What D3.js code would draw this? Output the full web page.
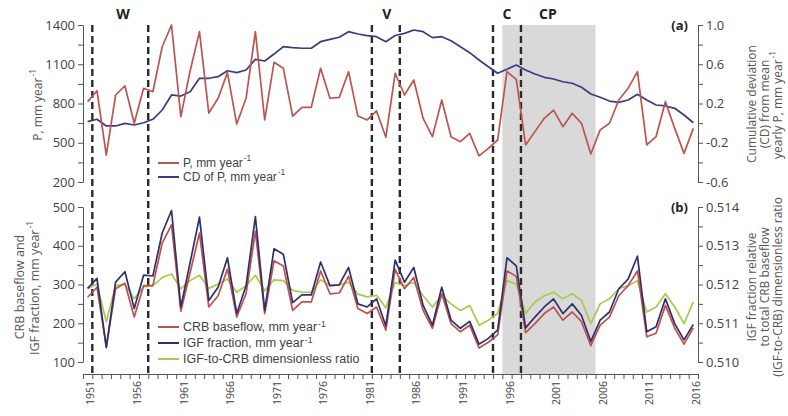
<!DOCTYPE html>
<html>
<head>
<meta charset="utf-8">
<script src="https://cdn.jsdelivr.net/npm/d3@7"></script>
<style>
  body { margin: 0; background: #fff; }
  text { font-family: "Open Sans", "DejaVu Sans", sans-serif; fill: #3f3f3f; }
  .leg text { font-family: "Liberation Sans", Arial, sans-serif; }
</style>
</head>
<body>
<svg id="chart" width="788" height="416"></svg>
<script>
// years 1951..2016
var years = d3.range(1951, 2017);
var xLabelYears = [1951, 1956, 1961, 1966, 1971, 1976, 1981, 1986, 1991, 1996, 2001, 2006, 2011, 2016];

// (a) precipitation and its cumulative deviation
var precip = [814, 898, 406, 865, 934, 649, 916, 890, 1234, 1400, 700, 1050, 1349, 727, 840, 1036, 643, 840, 1349, 674,
  1115, 1069, 704, 771, 771, 1069, 840, 847, 1043, 704, 674, 743, 542, 1031, 865, 980, 687, 546, 827, 546,
  508, 572, 399, 457, 521, 1043, 985, 483, 585, 687, 750, 623, 725, 649, 414, 598, 649, 827, 916, 1043,
  483, 546, 814, 610, 419, 610];
var cumDev = [0.015, 0.039, -0.029, -0.029, -0.002, -0.019, 0.004, 0.039, 0.134, 0.287, 0.276, 0.320, 0.457, 0.457, 0.473, 0.534, 0.514, 0.541, 0.650, 0.633,
  0.704, 0.779, 0.769, 0.763, 0.763, 0.830, 0.854, 0.875, 0.932, 0.908, 0.891, 0.881, 0.830, 0.893, 0.915, 0.949, 0.932, 0.871, 0.881, 0.840,
  0.779, 0.718, 0.643, 0.575, 0.508, 0.549, 0.592, 0.541, 0.501, 0.467, 0.450, 0.422, 0.406, 0.365, 0.297, 0.263, 0.225, 0.212, 0.236, 0.294,
  0.236, 0.185, 0.175, 0.151, 0.083, 0.004];

// (b) baseflow, IGF fraction, ratio
var crbBaseflow = [267, 293, 140, 289, 303, 216, 297, 297, 407, 454, 231, 331, 433, 242, 271, 340, 216, 276, 437, 225,
  361, 348, 233, 255, 255, 335, 276, 278, 321, 238, 225, 242, 182, 339, 289, 318, 233, 187, 276, 199,
  178, 195, 136, 151, 170, 335, 321, 176, 199, 225, 242, 208, 229, 204, 142, 195, 216, 271, 297, 335,
  165, 174, 246, 187, 146, 188];
var igfFraction = [290, 316, 137, 306, 333, 238, 324, 322, 433, 491, 242, 357, 474, 259, 293, 369, 225, 297, 475, 233,
  392, 378, 253, 273, 273, 358, 297, 299, 344, 250, 242, 263, 193, 363, 306, 344, 246, 195, 293, 208,
  187, 205, 146, 161, 182, 369, 348, 188, 216, 242, 263, 225, 250, 220, 153, 208, 229, 289, 314, 373,
  178, 191, 263, 199, 157, 197];
var igfRatio = [0.51189, 0.51201, 0.51104, 0.51197, 0.51201, 0.51163, 0.51194, 0.51197, 0.51218, 0.51227,
  0.51189, 0.51210, 0.51224, 0.51190, 0.51201, 0.51214, 0.51180, 0.51197, 0.51224, 0.51184,
  0.51212, 0.51210, 0.51185, 0.51180, 0.51180, 0.51212, 0.51197, 0.51199, 0.51206, 0.51175,
  0.51168, 0.51172, 0.51140, 0.51205, 0.51197, 0.51205, 0.51171, 0.51142, 0.51171, 0.51150,
  0.51133, 0.51146, 0.51095, 0.51108, 0.51125, 0.51210, 0.51201, 0.51125, 0.51155, 0.51171,
  0.51180, 0.51163, 0.51176, 0.51159, 0.51099, 0.51150, 0.51163, 0.51189, 0.51197, 0.51210,
  0.51129, 0.51142, 0.51176, 0.51142, 0.51099, 0.51155];

// period breaks and labels
var breakYears = [1951.5, 1957.5, 1981.5, 1984.5, 1994.5, 1997.5];
var periodNames = ["W", "V", "C", "CP"];
var periodAt = [1954.8, 1983.1, 1996.0, 2000.4];
var shadedSpan = [1995.5, 2005.5];

var svg = d3.select("#chart");

var x = d3.scaleLinear().domain([1950.5, 2016.5]).range([83, 698]);
var yP = d3.scaleLinear().domain([200, 1400]).range([182, 25]);
var yCD = d3.scaleLinear().domain([-0.6, 1.0]).range([182, 25]);
var yB = d3.scaleLinear().domain([100, 500]).range([362, 207]);
var yR = d3.scaleLinear().domain([0.510, 0.514]).range([362, 207]);

var axisBottomY = 374;

// shaded period
svg.append("rect")
  .attr("x", x(shadedSpan[0]))
  .attr("y", 25)
  .attr("width", x(shadedSpan[1]) - x(shadedSpan[0]))
  .attr("height", axisBottomY - 25)
  .attr("fill", "#d9d9d9");

// dashed breaks
svg.selectAll(".brk").data(breakYears).enter().append("line")
  .attr("class", "brk")
  .attr("x1", d => x(d)).attr("x2", d => x(d))
  .attr("y1", 25).attr("y2", axisBottomY)
  .attr("stroke", "#2a2a2a")
  .attr("stroke-width", 2.4)
  .attr("stroke-dasharray", "7,4");

svg.selectAll(".period").data(periodNames).enter().append("text")
  .attr("x", (d, i) => x(periodAt[i]))
  .attr("y", 19)
  .attr("text-anchor", "middle")
  .style("font-weight", "bold")
  .style("font-size", "14px")
  .style("fill", "#222")
  .text(d => d);

// axes
function styleAxis(g) {
  g.selectAll("path, line").attr("stroke", "#555").attr("stroke-width", 1);
  g.selectAll("text").style("font-size", "13px").style("fill", "#3f3f3f").attr("font-family", null);
}

var pTicks = d3.range(200, 1401, 150);
svg.append("g").attr("transform", "translate(83,0)")
  .call(d3.axisLeft(yP).tickValues(pTicks).tickSize(5).tickSizeOuter(0).tickPadding(3)
    .tickFormat(d => (d - 200) % 300 === 0 ? d : ""))
  .call(styleAxis);

var cdTicks = [-0.6, -0.4, -0.2, 0, 0.2, 0.4, 0.6, 0.8, 1.0];
svg.append("g").attr("transform", "translate(698,0)")
  .call(d3.axisRight(yCD).tickValues(cdTicks).tickSize(5).tickSizeOuter(0).tickPadding(3)
    .tickFormat((d, i) => i % 2 === 0 ? d3.format(".1f")(d).replace("−", "-") : ""))
  .call(styleAxis);

var bTicks = d3.range(100, 501, 50);
svg.append("g").attr("transform", "translate(83,0)")
  .call(d3.axisLeft(yB).tickValues(bTicks).tickSize(5).tickSizeOuter(0).tickPadding(3)
    .tickFormat(d => d % 100 === 0 ? d : ""))
  .call(styleAxis);

var rTicks = [0.510, 0.5105, 0.511, 0.5115, 0.512, 0.5125, 0.513, 0.5135, 0.514];
svg.append("g").attr("transform", "translate(698,0)")
  .call(d3.axisRight(yR).tickValues(rTicks).tickSize(5).tickSizeOuter(0).tickPadding(3)
    .tickFormat((d, i) => i % 2 === 0 ? d3.format(".3f")(d) : ""))
  .call(styleAxis);

svg.append("g").attr("transform", "translate(0," + axisBottomY + ")")
  .call(d3.axisBottom(x).tickValues(d3.range(1950.5, 2017, 1)).tickSize(5).tickSizeOuter(0).tickFormat(""))
  .call(styleAxis);

svg.selectAll(".xlab").data(xLabelYears).enter().append("text")
  .attr("transform", d => "translate(" + (x(d) + 3) + "," + (axisBottomY + 7) + ") rotate(-90)")
  .attr("text-anchor", "end")
  .attr("dy", "0.35em")
  .style("font-size", "10.5px")
  .text(d => d);

// lines
function drawLine(vals, yScale, color, width) {
  var line = d3.line().x((d, i) => x(years[i])).y(d => yScale(d));
  svg.append("path").datum(vals)
    .attr("d", line)
    .attr("fill", "none")
    .attr("stroke", color)
    .attr("stroke-width", width)
    .attr("stroke-linejoin", "round");
}

drawLine(cumDev, yCD, "#3b3b85", 1.7);
drawLine(precip, yP, "#bb554f", 1.7);

drawLine(igfRatio, yR, "#a5cc4c", 1.7);
drawLine(crbBaseflow, yB, "#c0504d", 1.7);
drawLine(igfFraction, yB, "#2f2f6e", 1.7);

// "-1" exponent as its own text, placed right after the main label
function addSup(parent, mainText, fs, raise) {
  var len = mainText.node().getComputedTextLength();
  parent.append("text")
    .attr("x", len + 1)
    .attr("y", -fs * (raise || 0.42))
    .attr("dy", "0.35em")
    .style("font-size", (fs * 0.7) + "px")
    .style("fill", mainText.style("fill"))
    .text("-1");
}

// legends
function legend(items, x0, y0, step, fs, raise) {
  var lg = svg.append("g").attr("class", "leg");
  items.forEach(function(it, i) {
    var yy = y0 + i * step;
    lg.append("line").attr("x1", x0).attr("x2", x0 + 21).attr("y1", yy).attr("y2", yy)
      .attr("stroke", it.color).attr("stroke-width", 2);
    var g = lg.append("g").attr("transform", "translate(" + (x0 + 25) + "," + yy + ")");
    var t = g.append("text").attr("dy", "0.35em").style("font-size", fs + "px").text(it.label);
    if (it.sup) addSup(g, t, fs, raise);
  });
}

legend([
  {label: "P, mm year", sup: true, color: "#bb554f"},
  {label: "CD of P, mm year", sup: true, color: "#3b3b85"}
], 158, 163, 14, 12, 0.42);

legend([
  {label: "CRB baseflow, mm year", sup: true, color: "#c0504d"},
  {label: "IGF fraction, mm year", sup: true, color: "#2f2f6e"},
  {label: "IGF-to-CRB dimensionless ratio", sup: false, color: "#a5cc4c"}
], 158, 327, 16, 12.5, 0.28);

// panel tags
svg.append("text").attr("x", 688).attr("y", 25).attr("dy", "0.35em").attr("text-anchor", "end")
  .style("font-size", "13px").style("font-weight", "bold").style("fill", "#222").text("(a)");
svg.append("text").attr("x", 688).attr("y", 207).attr("dy", "0.35em").attr("text-anchor", "end")
  .style("font-size", "13px").style("font-weight", "bold").style("fill", "#222").text("(b)");

// rotated axis titles, centred on (cx, cy)
function vTitle(cx, cy, label, sup, fs) {
  var g = svg.append("g").attr("transform", "translate(" + cx + "," + cy + ") rotate(-90)");
  var inner = g.append("g");
  var t = inner.append("text").attr("dy", "0.35em").style("font-size", fs + "px").style("fill", "#555").text(label);
  var w = t.node().getComputedTextLength();
  if (sup) {
    addSup(inner, t, fs);
    w += fs * 0.7 * 1.1 + 1;
  }
  inner.attr("transform", "translate(" + (-w / 2) + ",0)");
}

vTitle(38, 104, "P, mm year", true, 12);
vTitle(20, 287, "CRB baseflow and", false, 12.5);
vTitle(35, 287, "IGF fraction, mm year", true, 12.5);

vTitle(752, 104, "Cumulative deviation", false, 12);
vTitle(765, 104, "(CD) from mean", false, 12);
vTitle(778, 104, "yearly P, mm year", true, 12);

vTitle(752, 287, "IGF fraction relative", false, 12);
vTitle(765, 287, "to total CRB baseflow", false, 12);
vTitle(778, 287, "(IGF-to-CRB) dimensionless ratio", false, 12);
</script>
</body>
</html>
